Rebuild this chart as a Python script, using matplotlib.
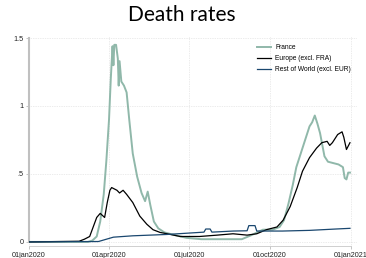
import matplotlib
matplotlib.use("Agg")
import matplotlib.pyplot as plt
import numpy as np

# France
fra_dates = ["2020-01-01", "2020-03-08", "2020-03-13", "2020-03-18", "2020-03-22",
             "2020-03-26", "2020-03-29", "2020-04-01", "2020-04-03", "2020-04-05",
             "2020-04-06", "2020-04-07", "2020-04-09", "2020-04-11", "2020-04-12",
             "2020-04-13", "2020-04-15", "2020-04-18", "2020-04-21", "2020-04-24",
             "2020-04-28", "2020-05-03", "2020-05-08", "2020-05-12", "2020-05-15",
             "2020-05-18", "2020-05-22", "2020-05-27", "2020-06-03", "2020-06-15",
             "2020-06-28", "2020-07-15", "2020-08-01", "2020-08-20", "2020-08-30",
             "2020-09-10", "2020-09-23", "2020-10-04", "2020-10-12", "2020-10-17",
             "2020-10-22", "2020-10-27", "2020-10-31", "2020-11-04", "2020-11-10",
             "2020-11-15", "2020-11-18", "2020-11-21", "2020-11-24", "2020-11-27",
             "2020-12-02", "2020-12-06", "2020-12-12", "2020-12-18", "2020-12-23",
             "2020-12-25", "2020-12-27", "2020-12-29", "2020-12-31"]
fra_vals = [0, 0, 0.01, 0.04, 0.15,
            0.35, 0.6, 0.9, 1.2, 1.44,
            1.30, 1.45, 1.45, 1.35, 1.15,
            1.33, 1.18, 1.15, 1.10, 0.90,
            0.65, 0.48, 0.36, 0.30, 0.37,
            0.27, 0.15, 0.10, 0.07, 0.05,
            0.03, 0.02, 0.02, 0.02, 0.02,
            0.05, 0.09, 0.09, 0.11, 0.16,
            0.28, 0.42, 0.55, 0.63, 0.75,
            0.85, 0.88, 0.93, 0.87, 0.80,
            0.63, 0.59, 0.58, 0.57, 0.55,
            0.47, 0.46, 0.51, 0.51]

# Europe (excl. FRA)
eur_dates = ["2020-01-01", "2020-02-27", "2020-03-04", "2020-03-10", "2020-03-18",
             "2020-03-22", "2020-03-27", "2020-03-30", "2020-04-02", "2020-04-04",
             "2020-04-10", "2020-04-13", "2020-04-17", "2020-04-21", "2020-04-28",
             "2020-05-06", "2020-05-14", "2020-05-21", "2020-05-29", "2020-06-06",
             "2020-06-21", "2020-07-13", "2020-08-02", "2020-08-20", "2020-09-05",
             "2020-09-16", "2020-09-27", "2020-10-09", "2020-10-16", "2020-10-24",
             "2020-11-01", "2020-11-07", "2020-11-15", "2020-11-23", "2020-11-29",
             "2020-12-05", "2020-12-08", "2020-12-11", "2020-12-17", "2020-12-22",
             "2020-12-24", "2020-12-27", "2020-12-31"]
eur_vals = [0, 0.005, 0.02, 0.04, 0.18,
            0.21, 0.18, 0.29, 0.38, 0.40,
            0.38, 0.36, 0.38, 0.35, 0.29,
            0.19, 0.13, 0.09, 0.07, 0.06,
            0.04, 0.04, 0.05, 0.06, 0.05,
            0.06, 0.09, 0.11, 0.16, 0.26,
            0.40, 0.52, 0.62, 0.69, 0.73,
            0.74, 0.71, 0.73, 0.79, 0.81,
            0.77, 0.68, 0.73]

# Rest of World (excl. EUR)
row_dates = ["2020-01-01", "2020-03-20", "2020-04-06", "2020-04-28", "2020-06-06",
             "2020-07-13", "2020-07-18", "2020-07-20", "2020-07-25", "2020-07-27",
             "2020-08-20", "2020-09-05", "2020-09-07", "2020-09-14", "2020-09-16",
             "2020-10-15", "2020-11-15", "2020-12-15", "2020-12-31"]
row_vals = [0, 0.003, 0.035, 0.045, 0.055,
            0.07, 0.072, 0.095, 0.095, 0.072,
            0.08, 0.082, 0.12, 0.12, 0.08,
            0.08, 0.085, 0.095, 0.10]

yticks = [0, 0.5, 1, 1.5]
ytick_labels = ["0", ".5", "1", "1.5"]
xticks = ["2020-01-01", "2020-04-01", "2020-07-01", "2020-10-01", "2021-01-01"]
xtick_labels = ["01jan2020", "01apr2020", "01jul2020", "01oct2020", "01jan2021"]

W, H = 366, 258
fig = plt.figure(figsize=(W / 100, H / 100), dpi=100)
ax = fig.add_axes([29 / W, (H - 246) / H, (357 - 29) / W, (246 - 36) / H])

to_d = lambda s: np.array(s, dtype="datetime64[D]")

ax.plot(to_d(fra_dates), fra_vals, color="#90b8aa", lw=1.4, label="France", zorder=3)
ax.plot(to_d(eur_dates), eur_vals, color="black", lw=0.9, label="Europe (excl. FRA)", zorder=4)
ax.plot(to_d(row_dates), row_vals, color="#1a476f", lw=0.9, label="Rest of World (excl. EUR)", zorder=5)

ax.set_xlim(np.datetime64("2020-01-01"), np.datetime64("2021-01-08"))
ax.set_ylim(-0.03, 1.515)

ax.set_yticks(yticks)
ax.set_yticklabels(ytick_labels, fontsize=5.2, family="Liberation Sans")
ax.set_xticks(to_d(xticks))
ax.set_xticklabels(xtick_labels, fontsize=5.2, family="Liberation Sans")
ax.tick_params(colors="#bbbbbb", labelcolor="#222222", length=2.5, width=0.6, pad=1.5)

ax.grid(True, color="#d8d8d8", linestyle=(0, (1, 1.5)), linewidth=0.5)
ax.set_axisbelow(True)
for s in ["top", "right"]:
    ax.spines[s].set_visible(False)
ax.spines["left"].set_color("#c0c0c0")
ax.spines["left"].set_linewidth(1.5)
ax.spines["left"].set_bounds(0, 1.5)
ax.spines["bottom"].set_color("#c8c8c8")
ax.spines["bottom"].set_linewidth(0.6)
ax.spines["bottom"].set_bounds(to_d(xticks[0]), to_d(xticks[-1]))

leg = ax.legend(loc="upper right", frameon=False, prop={"family": "Liberation Sans", "size": 4.8},
                handlelength=2.1, handletextpad=0.7, labelspacing=0.6,
                bbox_to_anchor=(1.0, 0.99))

fig.text(182 / W, 1 - 15 / H, "Death rates", ha="center", va="center", fontsize=15, family="Lato")

fig.savefig("out.png", dpi=100)
